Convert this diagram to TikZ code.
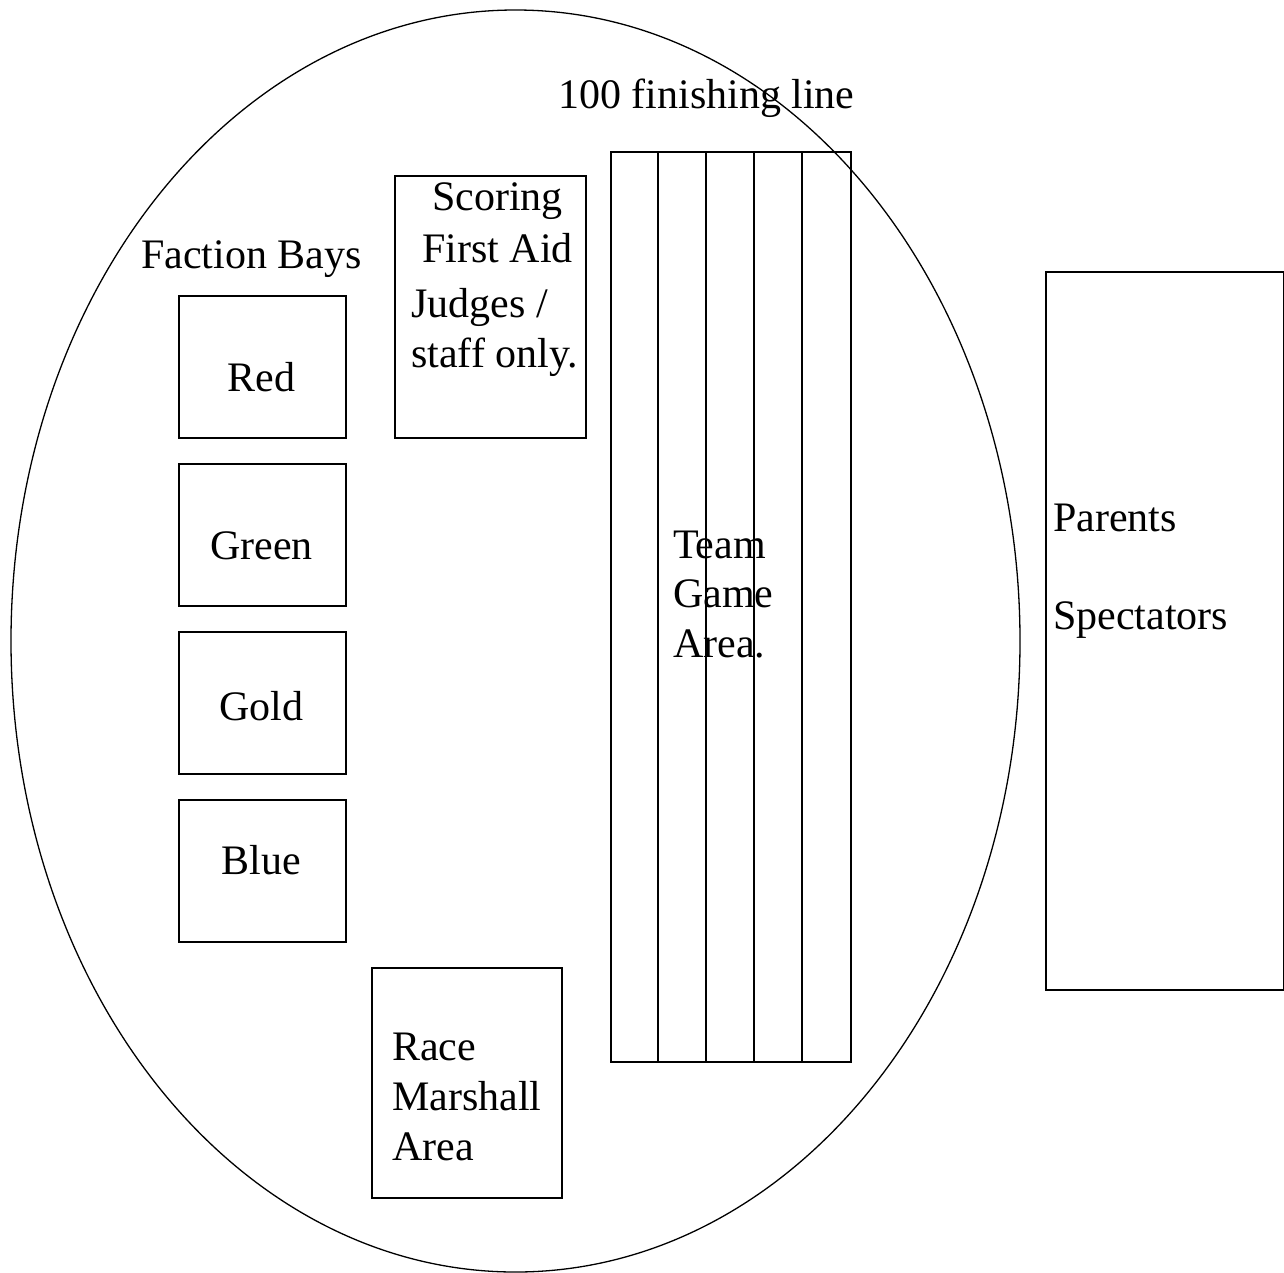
\documentclass[tikz,border=0pt]{standalone}
\usepackage{fontspec}
\setmainfont{Liberation Serif}
\usetikzlibrary{positioning}
\tikzset{area/.style={draw,line width=2.2pt,inner sep=0pt,anchor=north west},
    txt/.style={font=\fontsize{42}{50}\selectfont,inner sep=0pt,anchor=base west},
    ctxt/.style={txt,anchor=base}}

\begin{document}
\begin{tikzpicture}[x=1pt,y=-1pt]
  \useasboundingbox (0,0) rectangle (1284,1272);

  % The field
  \draw[line width=1.3pt] (515.5,641) ellipse [x radius=504.5, y radius=631];

  % Faction bays
  \node[txt] (bays) at (141,268) {Faction Bays};
  \foreach \name/\top/\base/\word in {red/295/391/Red, green/463/559/Green,
                                      gold/631/720/Gold, blue/799/874/Blue}
    {
    \node[area,minimum width=167pt,minimum height=142pt] (\name) at (178,\top) {};
    \node[ctxt] (\name txt) at (261.5,\base) {\word};
    }

  % Scoring / first aid
  \node[area,minimum width=191pt,minimum height=262pt] (scoring) at (394,175) {};
  \node[txt] (scor) at (432,210) {Scoring};
  \node[txt] (aid) at (422,262) {First Aid};
  \node[txt] (judges) at (411,317) {Judges /};
  \node[txt] (staff) at (411,367) {staff only.};

  % Race marshall
  \node[area,minimum width=190pt,minimum height=230pt] (marshall) at (371,967) {};
  \foreach \line/\base/\word in {1/1060/Race, 2/1110/Marshall, 3/1160/Area}
    \node[txt] (marshall\line) at (392,\base) {\word};

  % Track with lanes
  \node[txt] (finish) at (558,108) {100 finishing line};
  \node[area,minimum width=240pt,minimum height=910pt] (track) at (610,151) {};
  \foreach \x in {658,706,754,802}
    \draw[line width=2.2pt] (\x,151) -- (\x,1061);
  \foreach \line/\base/\word in {1/558/Team, 2/607/Game, 3/657/Area.}
    \node[txt] (team\line) at (673,\base) {\word};

  % Spectators
  \node[area,minimum width=238pt,minimum height=718pt] (parents) at (1045,271) {};
  \node[txt] (par) at (1053,531) {Parents};
  \node[txt] (spec) at (1053,629) {Spectators};

\end{tikzpicture}
\end{document}
